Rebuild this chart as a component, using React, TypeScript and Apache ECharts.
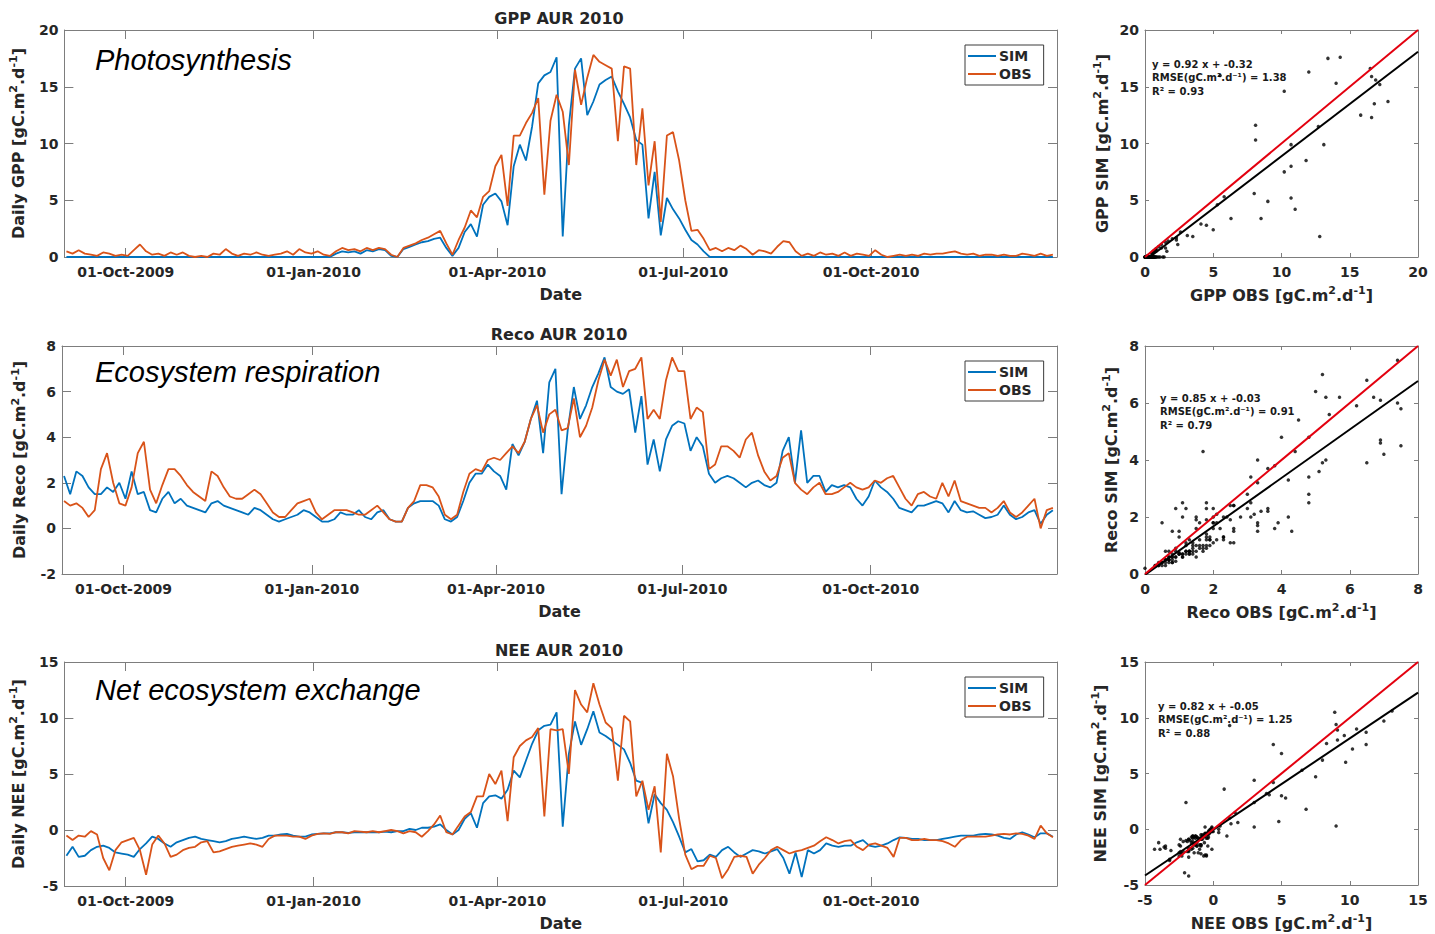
import React, { useEffect, useRef } from 'react';
import * as echarts from 'echarts';

// ---------- data ----------
const START_UTC = Date.UTC(2009, 8, 2);
const STEP_DAYS = 3;
const X_MIN = Date.UTC(2009, 8, 1);
const X_MAX = Date.UTC(2010, 11, 31);
const DATE_TICKS = [
  Date.UTC(2009, 9, 1),
  Date.UTC(2010, 0, 1),
  Date.UTC(2010, 3, 1),
  Date.UTC(2010, 6, 1),
  Date.UTC(2010, 9, 1),
];
const MONTHS = ['Jan', 'Feb', 'Mar', 'Apr', 'May', 'Jun', 'Jul', 'Aug', 'Sep', 'Oct', 'Nov', 'Dec'];
const SERIES_NAMES = ['SIM', 'OBS'];

const GPP_OBS = [
  0.5, 0.3, 0.6, 0.3, 0.2, 0.1, 0.4, 0.3, 0.1, 0.2,
  0.1, 0.6, 1.1, 0.5, 0.2, 0.3, 0.1, 0.4, 0.2, 0.4,
  0.1, 0.0, 0.1, 0.0, 0.3, 0.2, 0.7, 0.3, 0.1, 0.3,
  0.2, 0.4, 0.2, 0.1, 0.2, 0.3, 0.5, 0.2, 0.7, 0.4,
  0.3, 0.5, 0.2, 0.1, 0.5, 0.8, 0.6, 0.7, 0.5, 0.8,
  0.6, 0.8, 0.7, 0.2, 0.0, 0.8, 1.0, 1.2, 1.5, 1.7,
  2.0, 2.3, 1.2, 0.2, 1.5, 2.6, 4.1, 3.5, 5.3, 5.8,
  8.0, 9.0, 4.5, 10.7, 10.7, 11.8, 12.7, 14.0, 5.5, 12.0,
  14.3, 12.8, 8.1, 16.5, 13.4, 15.8, 17.8, 17.2, 16.9, 16.6,
  10.2, 16.8, 16.6, 8.1, 13.1, 6.3, 10.2, 3.1, 10.7, 11.0,
  8.5, 5.0, 2.3, 2.4, 1.6, 0.6, 0.8, 0.5, 0.8, 0.6,
  1.0, 0.7, 0.2, 0.6, 0.5, 0.3, 0.9, 1.4, 1.3, 0.5,
  0.1, 0.3, 0.1, 0.4, 0.2, 0.3, 0.1, 0.4, 0.1, 0.3,
  0.2, 0.1, 0.6, 0.2, 0.0, 0.1, 0.2, 0.1, 0.2, 0.1,
  0.3, 0.2, 0.3, 0.3, 0.4, 0.5, 0.3, 0.2, 0.3, 0.1,
  0.2, 0.2, 0.1, 0.2, 0.1, 0.1, 0.3, 0.2, 0.1, 0.3,
  0.1, 0.2,
];
const GPP_SIM = [
  0, 0, 0, 0, 0, 0, 0, 0, 0, 0,
  0, 0, 0, 0, 0, 0, 0, 0, 0, 0,
  0, 0, 0, 0, 0, 0, 0, 0, 0, 0,
  0, 0, 0, 0, 0, 0, 0, 0, 0, 0,
  0, 0, 0, 0, 0.3, 0.5, 0.4, 0.5, 0.3, 0.6,
  0.5, 0.7, 0.6, 0.1, 0.0, 0.7, 0.9, 1.1, 1.3, 1.4,
  1.6, 1.7, 0.8, 0.1, 0.8, 2.2, 2.9, 1.8, 4.6, 5.3,
  5.6, 4.9, 2.8, 8.0, 9.9, 8.5, 11.5, 15.3, 16.0, 16.3,
  17.6, 1.8, 11.6, 16.6, 17.5, 12.5, 13.7, 15.2, 15.6, 15.9,
  14.6, 13.5, 12.3, 10.3, 9.9, 3.4, 7.5, 1.9, 5.2, 4.2,
  3.4, 2.4, 1.5, 1.1, 0.5, 0, 0, 0, 0, 0,
  0, 0, 0, 0, 0, 0, 0, 0, 0, 0,
  0, 0, 0, 0, 0, 0, 0, 0, 0, 0,
  0, 0, 0, 0, 0, 0, 0, 0, 0, 0,
  0, 0, 0, 0, 0, 0, 0, 0, 0, 0,
  0, 0, 0, 0, 0, 0, 0, 0, 0, 0,
  0, 0,
];

const RECO_SIM = [
  2.3, 1.5, 2.5, 2.3, 1.8, 1.5, 1.5, 1.8, 1.6, 2.0,
  1.3, 2.5, 1.5, 1.6, 0.8, 0.7, 1.3, 1.6, 1.1, 1.3,
  1.0, 0.9, 0.8, 0.7, 1.1, 1.2, 1.0, 0.9, 0.8, 0.7,
  0.6, 0.9, 0.8, 0.6, 0.4, 0.3, 0.4, 0.5, 0.6, 0.8,
  0.7, 0.5, 0.3, 0.3, 0.4, 0.7, 0.6, 0.6, 0.8, 0.5,
  0.4, 0.7, 0.8, 0.4, 0.3, 0.3, 0.9, 1.1, 1.2, 1.2,
  1.2, 1.0, 0.4, 0.3, 0.5, 1.2, 2.0, 2.4, 2.4, 2.8,
  2.5, 2.3, 1.7, 3.7, 3.2, 3.8, 4.8, 5.6, 3.3, 6.4,
  7.0, 1.5, 4.3, 6.2, 4.8, 5.4, 6.2, 6.8, 7.5, 6.2,
  6.0, 5.9, 6.1, 4.2, 5.8, 2.8, 3.9, 2.5, 3.9, 4.5,
  4.7, 4.6, 3.4, 4.0, 3.6, 2.4, 2.0, 2.2, 2.3, 2.2,
  2.0, 1.8, 2.0, 2.1, 1.9, 1.8, 2.0, 3.4, 4.0, 2.0,
  4.3, 2.0, 2.3, 2.3, 1.6, 1.9, 1.8, 1.9, 1.8, 1.3,
  1.0, 1.4, 2.1, 1.8, 1.6, 1.3, 0.9, 0.8, 0.7, 1.0,
  1.0, 1.1, 1.2, 1.1, 0.7, 1.2, 0.8, 0.7, 0.75, 0.6,
  0.45, 0.5, 0.6, 1.0, 0.6, 0.4, 0.5, 0.7, 0.8, 0.2,
  0.6, 0.8,
];
const RECO_OBS = [
  1.2, 1.0, 1.1, 0.9, 0.5, 0.8, 2.6, 3.3, 2.0, 1.1,
  1.0, 1.8, 3.3, 3.8, 1.7, 1.1, 1.9, 2.6, 2.6, 2.3,
  1.9, 1.6, 1.4, 1.2, 2.5, 2.3, 1.8, 1.4, 1.3, 1.3,
  1.5, 1.7, 1.5, 1.1, 0.7, 0.5, 0.5, 0.8, 1.1, 1.2,
  1.3, 0.7, 0.4, 0.6, 0.8, 0.8, 0.8, 0.7, 0.6, 0.6,
  0.8, 1.0, 0.7, 0.4, 0.3, 0.3, 0.9, 1.2, 1.9, 1.9,
  1.8, 1.4, 0.6, 0.4, 0.6, 1.6, 2.4, 2.6, 2.5, 3.0,
  3.1, 3.0, 3.3, 3.6, 3.3, 3.8, 4.8, 5.4, 4.2, 5.0,
  5.2, 4.3, 4.4, 5.7, 4.0, 4.5, 5.3, 6.5, 7.4, 6.7,
  7.4, 6.2, 6.9, 7.0, 7.5, 4.8, 5.2, 4.8, 6.5, 7.5,
  6.9, 6.9, 4.8, 5.3, 5.1, 2.6, 2.8, 3.6, 3.6, 3.4,
  3.1, 3.9, 4.2, 3.2, 2.5, 2.1, 2.3, 3.1, 3.3, 2.0,
  1.7, 1.5, 1.8, 2.0, 1.5, 1.5, 1.6, 1.8, 2.0, 1.8,
  1.7, 1.8, 2.1, 2.0, 2.2, 2.3, 1.8, 1.3, 1.0, 1.5,
  1.6, 1.4, 1.3, 2.0, 1.4, 2.1, 1.2, 1.1, 1.0, 0.9,
  0.9, 0.7, 0.9, 1.2, 0.7, 0.5, 0.7, 1.0, 1.3, 0.0,
  0.8, 0.9,
];

const NEE_SIM = [
  -2.3, -1.5, -2.4, -2.3, -1.8, -1.5, -1.4, -1.6, -2.0, -2.1,
  -2.2, -2.4, -1.7, -1.2, -0.6, -0.8, -1.2, -1.5, -1.1, -0.9,
  -0.7, -0.6, -0.8, -0.9, -1.0, -1.1, -1.0, -0.8, -0.7, -0.6,
  -0.7, -0.8, -0.7, -0.5, -0.5, -0.4, -0.35, -0.5, -0.6, -0.6,
  -0.4, -0.35, -0.3, -0.3, -0.2, -0.2, -0.25, -0.2, -0.2, -0.2,
  -0.2, -0.2, -0.15, -0.2, -0.1, -0.1, 0.1, 0.0, 0.2, 0.2,
  0.3, 0.5, 0.0, -0.4, 0.0, 1.0, 1.5, 0.2, 2.4, 3.0,
  3.1, 2.8, 3.6, 5.3, 4.7, 6.2, 7.7, 8.9, 9.3, 9.4,
  10.5, 0.3, 6.8, 9.7, 7.6, 9.0, 10.6, 8.7, 8.4, 8.0,
  7.6, 7.2, 6.0, 4.4, 4.2, 0.6, 3.2, 2.4, 1.8, 0.7,
  -0.6, -2.0, -1.7, -2.8, -2.7, -2.2, -2.4, -1.8, -1.5, -2.0,
  -2.4, -2.1, -1.8, -1.9, -2.1, -1.9, -1.7, -2.5, -3.9, -2.0,
  -4.2, -1.8, -2.1, -1.8, -1.2, -1.4, -1.5, -1.4, -1.4, -1.1,
  -0.9, -1.4, -1.5, -1.4, -1.2, -0.9, -0.65, -0.7, -0.8, -0.8,
  -0.9, -0.9, -0.9, -0.8, -0.7, -0.6, -0.5, -0.5, -0.5, -0.4,
  -0.35, -0.4, -0.5, -0.7, -0.8, -0.4, -0.2, -0.4, -0.65, -0.3,
  -0.3, -0.6,
];
const NEE_OBS = [
  -0.5, -0.9, -0.5, -0.6, -0.1, -0.4, -2.5, -3.6, -1.8, -1.1,
  -0.9, -0.7, -1.8, -4.0, -1.3, -0.5, -1.2, -2.4, -2.2, -1.8,
  -1.6, -1.5, -1.1, -1.0, -2.0, -1.9, -1.7, -1.5, -1.4, -1.3,
  -1.2, -1.3, -1.5, -0.8, -0.5, -0.5, -0.5, -0.6, -0.6, -0.8,
  -0.5, -0.35, -0.3, -0.35, -0.2, -0.2, -0.3, -0.1, -0.15, -0.2,
  -0.1, -0.2, -0.1, 0.0, -0.1, -0.3, -0.1, -0.2, -0.6, -0.1,
  0.5, 1.3, -0.2, -0.4, 0.4, 1.2, 1.6, 3.0, 3.0, 5.0,
  4.1, 5.3, 0.8, 6.5, 7.5, 8.0, 8.3, 9.1, 1.2, 9.0,
  8.9, 9.0, 5.0, 12.5, 11.2, 10.5, 13.1, 11.2, 9.6, 9.1,
  4.4, 10.2, 9.7, 3.0, 4.4, 1.8, 3.9, -2.0, 6.8, 4.8,
  1.0, -2.2, -3.5, -3.2, -3.2, -2.3, -2.5, -4.3, -3.5, -2.4,
  -2.3, -2.4, -3.9, -3.1, -2.5, -1.8, -1.5, -1.8, -2.1, -1.9,
  -1.8, -1.6, -1.4, -1.0, -0.65, -0.9, -1.2, -1.0, -0.9, -1.5,
  -1.8, -1.3, -1.2, -1.4, -1.6, -2.4, -0.7, -0.7, -0.9, -0.9,
  -0.8, -0.9, -0.9, -1.0, -1.2, -1.5, -0.9, -0.6, -0.6, -0.6,
  -0.6, -0.5, -0.4, -0.35, -0.4, -0.3, -0.35, -0.5, -0.8, 0.4,
  -0.3, -0.65,
];

// regression fits shown in the scatter panels: [slope, intercept]
const FIT_GPP = [0.92, -0.32];
const FIT_RECO = [0.85, -0.03];
const FIT_NEE = [0.82, -0.05];
const RMSE_TEXT = ['1.38', '0.91', '1.25'];
const R2_TEXT = ['0.93', '0.79', '0.88'];

// ---------- styling ----------
const FONT = '"DejaVu Sans", Verdana, sans-serif';
const TXT = '#262626';
const BOX = '#7d7d7d';
const BLUE = '#0072BD';
const ORANGE = '#D95319';
const UNIT = ' [gC.m{sup|2}.d{sup|-1}]';

const PANELS = [
  {
    title: 'GPP AUR 2010', label: 'Photosynthesis',
    yName: 'Daily GPP' + UNIT, sxName: 'GPP OBS' + UNIT, syName: 'GPP SIM' + UNIT,
    sim: GPP_SIM, obs: GPP_OBS, min: 0, max: 20, int: 5, fit: FIT_GPP,
    top: 30, h: 227, yGap: 33, syGap: 33, statX: 1152, statY: 64, legendTop: 45,
  },
  {
    title: 'Reco AUR 2010', label: 'Ecosystem respiration',
    yName: 'Daily Reco' + UNIT, sxName: 'Reco OBS' + UNIT, syName: 'Reco SIM' + UNIT,
    sim: RECO_SIM, obs: RECO_OBS, min: -2, max: 8, int: 2, fit: FIT_RECO,
    top: 346, h: 228, yGap: 29, syGap: 24, statX: 1160, statY: 398, legendTop: 361,
  },
  {
    title: 'NEE AUR 2010', label: 'Net ecosystem exchange',
    yName: 'Daily NEE' + UNIT, sxName: 'NEE OBS' + UNIT, syName: 'NEE SIM' + UNIT,
    sim: NEE_SIM, obs: NEE_OBS, min: -5, max: 15, int: 5, fit: FIT_NEE,
    top: 662, h: 227, yGap: 34, syGap: 35, statX: 1158, statY: 706, legendTop: 677,
  },
];
const SCATTER_MIN = [0, 0, -5];

const fmtDate = (v: number) => {
  const d = new Date(v);
  const dd = String(d.getUTCDate()).padStart(2, '0');
  return `${dd}-${MONTHS[d.getUTCMonth()]}-${d.getUTCFullYear()}`;
};

const labelStyle = { fontFamily: FONT, fontWeight: 'bold' as const, fontSize: 14, color: TXT };
const nameStyle = {
  fontFamily: FONT, fontWeight: 'bold' as const, fontSize: 16, color: TXT, lineHeight: 20,
  rich: {
    sup: { fontFamily: FONT, fontWeight: 'bold' as const, fontSize: 11, color: TXT, verticalAlign: 'top' as const, lineHeight: 12 },
  },
};
const axisLine = { show: true, onZero: false, lineStyle: { color: BOX, width: 1 } };

function buildOption() {
  const grid: any[] = [];
  const xAxis: any[] = [];
  const yAxis: any[] = [];
  const series: any[] = [];
  const legend: any[] = [];
  const graphic: any[] = [];

  PANELS.forEach((p) => {
    grid.push({ left: 62, top: p.top, width: 995, height: p.h, containLabel: false });
  });
  PANELS.forEach((p) => {
    grid.push({ left: 1145, top: p.top, width: 273, height: p.h, containLabel: false });
  });

  // time-series axes
  PANELS.forEach((p, k) => {
    const tick = { show: true, inside: true, length: 9, customValues: DATE_TICKS, lineStyle: { color: BOX } };
    xAxis.push({
      type: 'value', gridIndex: k, min: X_MIN, max: X_MAX, position: 'bottom',
      axisLine, axisTick: tick, splitLine: { show: false },
      axisLabel: { customValues: DATE_TICKS, formatter: fmtDate, margin: 8, ...labelStyle },
      name: 'Date', nameLocation: 'middle', nameGap: 27, nameTextStyle: nameStyle,
    });
    xAxis.push({
      type: 'value', gridIndex: k, min: X_MIN, max: X_MAX, position: 'top',
      axisLine, axisTick: tick, splitLine: { show: false }, axisLabel: { show: false },
    });
    const ytick = { show: true, inside: true, length: 9, lineStyle: { color: BOX } };
    yAxis.push({
      type: 'value', gridIndex: k, min: p.min, max: p.max, interval: p.int, position: 'left',
      axisLine, axisTick: ytick, splitLine: { show: false },
      axisLabel: { margin: 6, ...labelStyle },
      name: p.yName, nameLocation: 'middle', nameGap: p.yGap, nameTextStyle: nameStyle,
    });
    yAxis.push({
      type: 'value', gridIndex: k, min: p.min, max: p.max, interval: p.int, position: 'right',
      axisLine, axisTick: ytick, splitLine: { show: false }, axisLabel: { show: false },
    });
  });

  // scatter axes
  PANELS.forEach((p, k) => {
    const lo = SCATTER_MIN[k];
    const g = 3 + k;
    const tick = { show: true, inside: true, length: 4, lineStyle: { color: BOX } };
    xAxis.push({
      type: 'value', gridIndex: g, min: lo, max: p.max, interval: p.int, position: 'bottom',
      axisLine, axisTick: tick, splitLine: { show: false },
      axisLabel: { margin: 8, ...labelStyle },
      name: p.sxName, nameLocation: 'middle', nameGap: 28, nameTextStyle: nameStyle,
    });
    xAxis.push({
      type: 'value', gridIndex: g, min: lo, max: p.max, interval: p.int, position: 'top',
      axisLine, axisTick: tick, splitLine: { show: false }, axisLabel: { show: false },
    });
    yAxis.push({
      type: 'value', gridIndex: g, min: lo, max: p.max, interval: p.int, position: 'left',
      axisLine, axisTick: tick, splitLine: { show: false },
      axisLabel: { margin: 6, ...labelStyle },
      name: p.syName, nameLocation: 'middle', nameGap: p.syGap, nameTextStyle: nameStyle,
    });
    yAxis.push({
      type: 'value', gridIndex: g, min: lo, max: p.max, interval: p.int, position: 'right',
      axisLine, axisTick: tick, splitLine: { show: false }, axisLabel: { show: false },
    });
  });

  // time-series lines
  PANELS.forEach((p, k) => {
    const toPts = (arr: number[]) =>
      arr.map((v, i) => [START_UTC + i * STEP_DAYS * 86400000, v]);
    series.push({
      type: 'line', name: SERIES_NAMES[0], xAxisIndex: 2 * k, yAxisIndex: 2 * k,
      data: toPts(p.sim), showSymbol: false, symbol: 'none', color: BLUE,
      lineStyle: { color: BLUE, width: 1.8 }, z: 2,
    });
    series.push({
      type: 'line', name: SERIES_NAMES[1], xAxisIndex: 2 * k, yAxisIndex: 2 * k,
      data: toPts(p.obs), showSymbol: false, symbol: 'none', color: ORANGE,
      lineStyle: { color: ORANGE, width: 1.8 }, z: 3,
    });
    legend.push({
      data: SERIES_NAMES, orient: 'vertical', left: 965, top: p.legendTop,
      icon: 'rect', itemWidth: 28, itemHeight: 2, itemGap: 4,
      padding: [4, 12, 4, 3], borderColor: '#3a3a3a', borderWidth: 1, borderRadius: 0,
      backgroundColor: '#ffffff', selectedMode: false,
      textStyle: { ...labelStyle, padding: [0, 0, 0, -2] },
    });
  });

  // scatter panels
  PANELS.forEach((p, k) => {
    const lo = SCATTER_MIN[k];
    const hi = p.max;
    const xi = 6 + 2 * k;
    series.push({
      type: 'scatter', name: 'points' + k, xAxisIndex: xi, yAxisIndex: xi,
      data: p.obs.map((o, i) => [o, p.sim[i]]),
      symbol: 'circle', symbolSize: 3.5, itemStyle: { color: '#000' }, z: 2,
    });
    series.push({
      type: 'line', name: 'one-to-one' + k, xAxisIndex: xi, yAxisIndex: xi,
      data: [[lo, lo], [hi, hi]], symbol: 'none', lineStyle: { color: '#e3000f', width: 2 }, z: 4,
    });
    series.push({
      type: 'line', name: 'fit' + k, xAxisIndex: xi, yAxisIndex: xi,
      data: [[lo, p.fit[0] * lo + p.fit[1]], [hi, p.fit[0] * hi + p.fit[1]]],
      symbol: 'none', lineStyle: { color: '#000', width: 2 }, z: 3,
    });
  });

  // titles, italic labels and statistics
  PANELS.forEach((p, k) => {
    graphic.push({
      type: 'text', x: 559, y: p.top - 12,
      style: { text: p.title, fill: TXT, font: `bold 16px ${FONT}`, align: 'center', verticalAlign: 'middle' },
    });
    graphic.push({
      type: 'text', x: 95, y: p.top + [30, 26, 28][k],
      style: { text: p.label, fill: '#000', font: 'italic 29px "Liberation Sans", Arial, sans-serif', align: 'left', verticalAlign: 'middle' },
    });
    const fitTxt = `y = ${p.fit[0].toFixed(2)} x + ${p.fit[1].toFixed(2)}`;
    const lines = [fitTxt, `RMSE(gC.m².d⁻¹) = ${RMSE_TEXT[k]}`, `R² = ${R2_TEXT[k]}`];
    lines.forEach((t, j) => {
      graphic.push({
        type: 'text', x: p.statX, y: p.statY + j * 13.7,
        style: { text: t, fill: '#1a1a1a', font: `bold 10px ${FONT}`, align: 'left', verticalAlign: 'middle' },
      });
    });
  });

  return {
    animation: false,
    backgroundColor: '#ffffff',
    grid, xAxis, yAxis, series, legend, graphic,
  };
}

export default function App() {
  const ref = useRef<HTMLDivElement>(null);
  useEffect(() => {
    document.body.style.margin = '0';
    if (!ref.current) return;
    const chart = echarts.init(ref.current, undefined, { renderer: 'svg' });
    chart.setOption(buildOption() as any);
    return () => chart.dispose();
  }, []);
  return <div ref={ref} style={{ width: 1435, height: 934, background: '#fff' }} />;
}
